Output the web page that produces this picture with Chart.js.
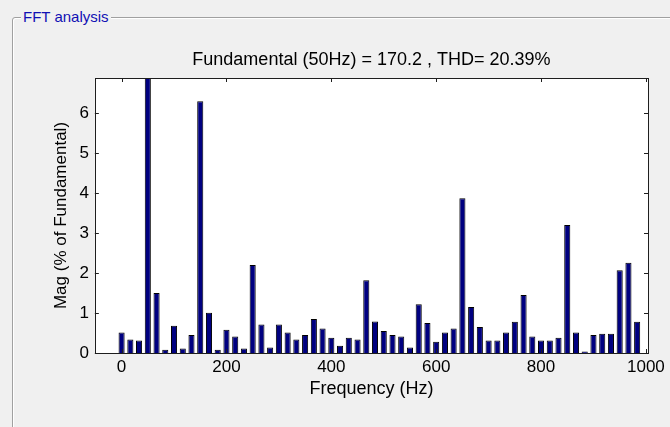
<!DOCTYPE html>
<html>
<head>
<meta charset="utf-8">
<script src="https://cdn.jsdelivr.net/npm/chart.js@4.4.1/dist/chart.umd.min.js"></script>
<style>
  html, body { margin: 0; padding: 0; background: #f0f0f0; }
  #wrap { position: relative; width: 670px; height: 427px; overflow: hidden; }
  #box {
    position: absolute; left: 12px; top: 17px; width: 720px; height: 500px;
    border: 1px solid #a0a0a0; border-radius: 3px;
    box-shadow: inset 1px 1px 0 #fff, 1px 1px 0 #fff;
  }
  #boxTitle {
    position: absolute; left: 21px; top: 7px; padding: 0 2px;
    background: #f0f0f0; color: #1010b4;
    font: 15px "Liberation Sans", Arial, sans-serif; line-height: 19px;
  }
  canvas { position: absolute; left: 0; top: 0; }
</style>
</head>
<body>
<div id="wrap">
  <div id="box"></div>
  <div id="boxTitle">FFT analysis</div>
  <canvas id="fftChart" width="670" height="427"></canvas>
</div>
<script>
// harmonic spectrum, bins every 16.7 Hz
const freqHz = [
  0, 16.7, 33.3, 50, 66.7, 83.3, 100, 116.7, 133.3, 150,
  166.7, 183.3, 200, 216.7, 233.3, 250, 266.7, 283.3, 300, 316.7,
  333.3, 350, 366.7, 383.3, 400, 416.7, 433.3, 450, 466.7, 483.3,
  500, 516.7, 533.3, 550, 566.7, 583.3, 600, 616.7, 633.3, 650,
  666.7, 683.3, 700, 716.7, 733.3, 750, 766.7, 783.3, 800, 816.7,
  833.3, 850, 866.7, 883.3, 900, 916.7, 933.3, 950, 966.7, 983.3
];
// magnitude in % of fundamental (fundamental itself = 100, clipped by the axis)
const magPct = [
  0.51, 0.34, 0.31, 100, 1.50, 0.08, 0.68, 0.11, 0.45, 6.30,
  1.01, 0.08, 0.58, 0.41, 0.11, 2.20, 0.71, 0.14, 0.71, 0.51,
  0.34, 0.45, 0.85, 0.61, 0.38, 0.18, 0.38, 0.34, 1.82, 0.79,
  0.55, 0.45, 0.41, 0.14, 1.22, 0.75, 0.28, 0.51, 0.61, 3.87,
  1.15, 0.65, 0.31, 0.31, 0.51, 0.78, 1.45, 0.41, 0.31, 0.31,
  0.38, 3.20, 0.51, 0.04, 0.45, 0.48, 0.48, 2.07, 2.26, 0.78
];
const xTicks = [0, 200, 400, 600, 800, 1000];
const yTicks = [0, 1, 2, 3, 4, 5, 6];
const chartTitle = 'Fundamental (50Hz) = 170.2 , THD= 20.39%';

const FONT = '"Liberation Sans", Arial, sans-serif';

// white axes background, black box and inward ticks on all four sides
const matlabAxes = {
  id: 'matlabAxes',
  beforeDraw(chart) {
    const a = chart.chartArea;
    const ctx = chart.ctx;
    ctx.save();
    ctx.fillStyle = '#ffffff';
    ctx.fillRect(a.left, a.top, a.right - a.left, a.bottom - a.top);
    ctx.restore();
  },
  afterDatasetsDraw(chart) {
    const a = chart.chartArea;
    const ctx = chart.ctx;
    const len = 4;
    ctx.save();
    ctx.strokeStyle = '#1e1e1e';
    ctx.lineWidth = 1;
    ctx.beginPath();
    chart.scales.x.ticks.forEach(t => {
      const px = Math.round(chart.scales.x.getPixelForValue(t.value)) + 0.5;
      ctx.moveTo(px, a.bottom); ctx.lineTo(px, a.bottom - len);
      ctx.moveTo(px, a.top); ctx.lineTo(px, a.top + len);
    });
    chart.scales.y.ticks.forEach(t => {
      const py = Math.round(chart.scales.y.getPixelForValue(t.value)) + 0.5;
      ctx.moveTo(a.left, py); ctx.lineTo(a.left + len, py);
      ctx.moveTo(a.right, py); ctx.lineTo(a.right - len, py);
    });
    ctx.stroke();
    ctx.strokeRect(Math.round(a.left) + 0.5, Math.round(a.top) + 0.5,
      Math.round(a.right - a.left), Math.round(a.bottom - a.top));
    ctx.restore();
  }
};

const ctx = document.getElementById('fftChart').getContext('2d');
const fftChart = new Chart(ctx, {
  type: 'bar',
  data: {
    datasets: [{
      data: freqHz.map((f, i) => ({ x: f, y: magPct[i] })),
      backgroundColor: '#000080',
      borderColor: '#000000',
      borderWidth: 1,
      barPercentage: 0.7,
      categoryPercentage: 1.0
    }]
  },
  options: {
    responsive: false,
    animation: false,
    layout: { padding: { left: 41, right: 22, top: 0, bottom: 21 } },
    plugins: {
      legend: { display: false },
      tooltip: { enabled: false },
      title: {
        display: true,
        fullSize: false,
        text: chartTitle,
        color: '#000',
        font: { family: FONT, size: 18, weight: 'normal' },
        padding: { top: 49, bottom: 7.4 }
      }
    },
    scales: {
      x: {
        type: 'linear',
        min: -51,
        max: 1004,
        offset: false,
        afterBuildTicks: s => { s.ticks = xTicks.map(v => ({ value: v })); },
        grid: { display: false, drawTicks: false },
        border: { display: false },
        ticks: {
          color: '#000', padding: 4, maxRotation: 0,
          font: { family: FONT, size: 17 },
          callback: v => String(v)
        },
        title: {
          display: true, text: 'Frequency (Hz)', color: '#000',
          font: { family: FONT, size: 18 }, padding: { top: -3, bottom: 6 }
        }
      },
      y: {
        min: 0,
        max: 6.88,
        afterBuildTicks: s => { s.ticks = yTicks.map(v => ({ value: v })); },
        grid: { display: false, drawTicks: false },
        border: { display: false },
        ticks: {
          color: '#000', padding: 6,
          font: { family: FONT, size: 17 },
          callback: v => String(v)
        },
        title: {
          display: true, text: 'Mag (% of Fundamental)', color: '#000',
          font: { family: FONT, size: 17 }, padding: { top: 10, bottom: 2 }
        }
      }
    }
  },
  plugins: [matlabAxes]
});
</script>
</body>
</html>
